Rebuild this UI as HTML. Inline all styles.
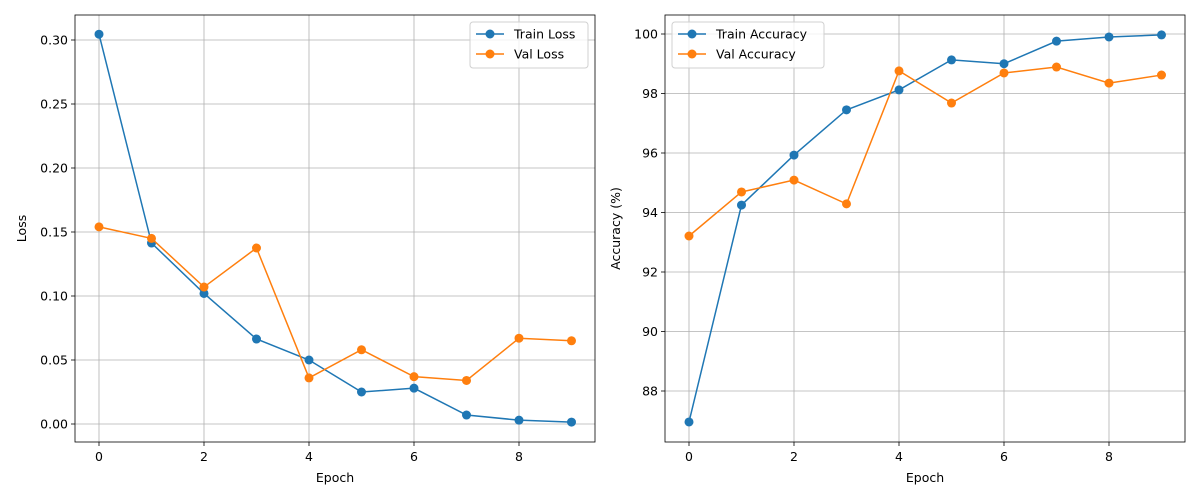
<!DOCTYPE html>
<html><head><meta charset="utf-8">
<style>
html,body{margin:0;padding:0;background:#fff;}
svg{display:block;font-family:"DejaVu Sans","Liberation Sans",sans-serif;}
</style></head>
<body>
<svg id="chart" width="1200" height="500" viewBox="0 0 1200 500" xmlns="http://www.w3.org/2000/svg"></svg>
<script>
const epochs = [0,1,2,3,4,5,6,7,8,9];
const trainLoss = [0.3045,0.1414,0.102,0.0664,0.050,0.025,0.028,0.007,0.003,0.0015];
const valLoss = [0.154,0.145,0.107,0.1375,0.036,0.058,0.037,0.034,0.067,0.065];
const trainAcc = [86.96,94.25,95.93,97.45,98.12,99.13,99.0,99.76,99.9,99.97];
const valAcc = [93.21,94.69,95.09,94.29,98.76,97.68,98.69,98.89,98.35,98.62];
const xTicks = [0,2,4,6,8];
const lossTicks = [0,0.05,0.10,0.15,0.20,0.25,0.30];
const lossTickLabels = ["0.00","0.05","0.10","0.15","0.20","0.25","0.30"];
const accTicks = [88,90,92,94,96,98,100];
const accTickLabels = ["88","90","92","94","96","98","100"];

const svg = document.getElementById('chart');
const NS = 'http://www.w3.org/2000/svg';
function mk(tag, attrs, parent){
  const e = document.createElementNS(NS, tag);
  for (const k in attrs) e.setAttribute(k, attrs[k]);
  (parent||svg).appendChild(e);
  return e;
}

function panel(cfg){
  const g = mk('g', {});
  
  
  const L=cfg.left, R=cfg.right, T=15, B=442;
  const xs = v => cfg.x0 + v*52.5;
  const ys = v => cfg.yRef - (v - cfg.yRefVal)*cfg.yScale;
  // grid
  xTicks.forEach(t=>{
    const gl = mk('line',{x1:xs(t),x2:xs(t),y1:T,y2:B,stroke:'#b0b0b0','stroke-width':0.8},g);
    
    
  });
  cfg.yTicks.forEach(t=>{
    const gl = mk('line',{x1:L,x2:R,y1:ys(t),y2:ys(t),stroke:'#b0b0b0','stroke-width':0.8},g);
    
    
  });
  // series
  cfg.series.forEach(s=>{
    const pts = s.data.map((v,i)=>xs(epochs[i])+','+ys(v)).join(' ');
    const pl = mk('polyline',{points:pts,fill:'none',stroke:s.color,'stroke-width':1.5},g);
    
    
    s.data.forEach((v,i)=>{
      const c = mk('circle',{cx:xs(epochs[i]),cy:ys(v),r:4.5,fill:s.color},g);
      
      
    });
  });
  // frame
  const fr = mk('rect',{x:L,y:T,width:R-L,height:B-T,fill:'none',stroke:'#000','stroke-width':0.8},g);
  
  
  // x ticks
  xTicks.forEach(t=>{
    mk('line',{x1:xs(t),x2:xs(t),y1:B,y2:B+4,stroke:'#000','stroke-width':0.8},g);
    const tx = mk('text',{x:xs(t),y:B+19,'text-anchor':'middle','font-size':12.5,fill:'#000'},g);
    tx.textContent = t;
    
    
  });
  cfg.yTicks.forEach((t,i)=>{
    mk('line',{x1:L-4,x2:L,y1:ys(t),y2:ys(t),stroke:'#000','stroke-width':0.8},g);
    const tx = mk('text',{x:L-7,y:ys(t)+4.5,'text-anchor':'end','font-size':12.5,fill:'#000'},g);
    tx.textContent = cfg.yLabels[i];
    
    
  });
  const xt = mk('text',{x:(L+R)/2,y:482,'text-anchor':'middle','font-size':12.5,fill:'#000'},g);
  xt.textContent = 'Epoch';
  
  
  const yt = mk('text',{x:0,y:0,'text-anchor':'middle','font-size':12.5,fill:'#000',transform:`translate(${cfg.yTitleX},${(T+B)/2}) rotate(-90)`},g);
  yt.textContent = cfg.yTitle;
  
  
  // legend
  const lg = mk('g',{},g);
  
  
  mk('rect',{x:cfg.legX,y:22,width:cfg.legW,height:46,rx:3,fill:'#fff','fill-opacity':0.8,stroke:'#d0d0d0','stroke-width':1},lg);
  cfg.series.forEach((s,i)=>{
    const y = 34 + i*20;
    const e = mk('g',{},lg);
    
    
    mk('line',{x1:cfg.legX+6,x2:cfg.legX+34,y1:y,y2:y,stroke:s.color,'stroke-width':1.5},e);
    mk('circle',{cx:cfg.legX+20,cy:y,r:4.5,fill:s.color},e);
    const t = mk('text',{x:cfg.legX+44,y:y+4.5,'font-size':12.5,fill:'#000'},e);
    t.textContent = s.label;
  });
}

panel({name:'loss-panel',left:75,right:595,x0:99,yRef:424,yRefVal:0,yScale:1280,
  yTicks:lossTicks,yLabels:lossTickLabels,yTitle:'Loss',yTitleX:26,legX:470,legW:118,
  series:[{name:'train-loss',label:'Train Loss',color:'#1f77b4',data:trainLoss},
          {name:'val-loss',label:'Val Loss',color:'#ff7f0e',data:valLoss}]});
panel({name:'accuracy-panel',left:665,right:1185,x0:689,yRef:391,yRefVal:88,yScale:29.75,
  yTicks:accTicks,yLabels:accTickLabels,yTitle:'Accuracy (%)',yTitleX:620,legX:672,legW:152,
  series:[{name:'train-accuracy',label:'Train Accuracy',color:'#1f77b4',data:trainAcc},
          {name:'val-accuracy',label:'Val Accuracy',color:'#ff7f0e',data:valAcc}]});
</script>
</body></html>
